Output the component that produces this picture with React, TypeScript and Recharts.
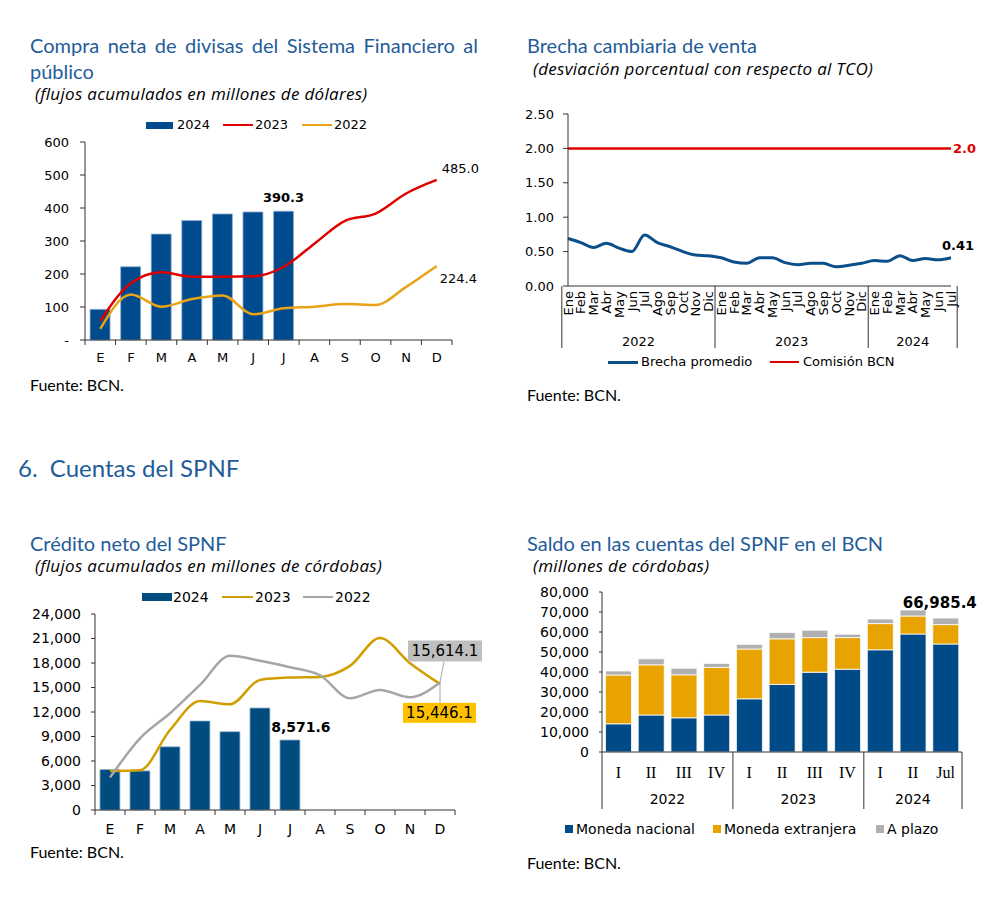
import React from "react";
import { ComposedChart, Bar, Line, XAxis, YAxis, LabelList } from "recharts";

const AX = "'DejaVu Sans', Verdana, sans-serif";
const SERIF = "'Liberation Serif', 'Times New Roman', serif";
const TF = "Lato, 'Open Sans', sans-serif";
const SF = "'Open Sans', Lato, sans-serif";
const TITLE = "#1F5C99";
const AXC = "#333";

// ---------- Chart 1: Compra neta de divisas ----------
const monthKeys = ["Ene", "Feb", "Mar", "Abr", "May", "Jun", "Jul", "Ago", "Sep", "Oct", "Nov", "Dic"];
const monthLetters = ["E", "F", "M", "A", "M", "J", "J", "A", "S", "O", "N", "D"];
const compra2024 = [93, 222, 321, 362, 382, 388, 390.3];
const compra2023 = [58, 172, 205, 192, 192, 193, 222, 292, 361, 383, 444, 485.0];
const compra2022 = [34, 138, 101, 124, 135, 78, 96, 101, 109, 106, 161, 224.4];
const compraTicks = [0, 100, 200, 300, 400, 500, 600];

// ---------- Chart 2: Brecha cambiaria ----------
const brechaYears = ["2022", "2023", "2024"];
const brechaMonthCounts = [12, 12, 7];
const brechaPromedio = [
  0.69, 0.63, 0.56, 0.62, 0.55, 0.5, 0.74, 0.63, 0.57, 0.5, 0.45, 0.44,
  0.41, 0.35, 0.33, 0.41, 0.41, 0.34, 0.31, 0.33, 0.33, 0.28, 0.3, 0.33,
  0.37, 0.36, 0.44, 0.37, 0.4, 0.38, 0.41,
];
const comisionBCN = [
  2.0, 2.0, 2.0, 2.0, 2.0, 2.0, 2.0, 2.0, 2.0, 2.0, 2.0, 2.0,
  2.0, 2.0, 2.0, 2.0, 2.0, 2.0, 2.0, 2.0, 2.0, 2.0, 2.0, 2.0,
  2.0, 2.0, 2.0, 2.0, 2.0, 2.0, 2.0,
];
const brechaTicks = [0, 0.5, 1, 1.5, 2, 2.5];

// ---------- Chart 3: Crédito neto del SPNF ----------
const credito2024 = [4960, 4790, 7740, 10900, 9590, 12490, 8571.6];
const credito2023 = [4790, 4870, 9790, 13350, 12940, 15930, 16220, 16300, 17650, 21050, 17980, 15446.1];
const credito2022 = [3970, 8770, 11840, 15320, 18880, 18270, 17490, 16500, 13680, 14700, 13800, 15614.1];
const creditoTicks = [0, 3000, 6000, 9000, 12000, 15000, 18000, 21000, 24000];

// ---------- Chart 4: Saldo en las cuentas ----------
const saldoYears = ["2022", "2023", "2024"];
const saldoCounts = [4, 4, 3];
const saldoPeriods = ["I", "II", "III", "IV", "I", "II", "III", "IV", "I", "II", "Jul"];
const monedaNacional = [14100, 18500, 17100, 18500, 26600, 33800, 39900, 41400, 51100, 59000, 54000];
const monedaExtranjera = [24400, 25100, 21500, 23800, 24900, 22800, 17300, 15800, 13100, 9000, 9700];
const aPlazo = [2000, 3000, 3300, 2000, 2300, 3100, 3700, 1700, 2300, 3000, 3285.4];
const saldoTicks = [0, 10000, 20000, 30000, 40000, 50000, 60000, 70000, 80000];

// ---------- data tables ----------
const compraData = monthKeys.map((k, i) => ({
  key: k,
  y2024: i < compra2024.length ? compra2024[i] : null,
  y2023: compra2023[i],
  y2022: compra2022[i],
}));

const creditoData = monthKeys.map((k, i) => ({
  key: k,
  y2024: i < credito2024.length ? credito2024[i] : null,
  y2023: credito2023[i],
  y2022: credito2022[i],
}));

type GroupInfo = { label: string; group: number; pos: number; n: number };
function groupInfo(labels: (i: number, pos: number) => string, counts: number[]): GroupInfo[] {
  const out: GroupInfo[] = [];
  counts.forEach((n, g) => {
    for (let p = 0; p < n; p++) out.push({ label: labels(out.length, p), group: g, pos: p, n });
  });
  return out;
}
const brechaInfo = groupInfo((_i, p) => monthKeys[p], brechaMonthCounts);
const brechaData = brechaInfo.map((it, i) => ({
  key: `${it.label}-${brechaYears[it.group]}`,
  promedio: brechaPromedio[i],
  comision: comisionBCN[i],
}));
const saldoInfo = groupInfo((i) => saldoPeriods[i], saldoCounts);
const saldoData = saldoInfo.map((it, i) => ({
  key: `${saldoYears[it.group]}-${it.label}`,
  mn: monedaNacional[i],
  me: monedaExtranjera[i],
  ap: aPlazo[i],
}));

const fmt0 = (v: number) => v.toLocaleString("en-US", { maximumFractionDigits: 0 });
const fmt1 = (v: number) => v.toLocaleString("en-US", { minimumFractionDigits: 1, maximumFractionDigits: 1 });

// ---------- layouts ----------
const C1 = { w: 490, h: 280, m: { top: 42, right: 38, bottom: 10, left: 25 }, yw: 60, xh: 30 };
const C1half = (C1.w - C1.m.left - C1.yw - C1.m.right) / monthKeys.length / 2;
const C2 = { w: 470, h: 280, m: { top: 14, right: 39, bottom: 30, left: 3 }, yw: 45, xh: 64 };
const C2half = (C2.w - C2.m.left - C2.yw - C2.m.right) / brechaData.length / 2;
const C3 = { w: 490, h: 280, m: { top: 34, right: 35, bottom: 20, left: 5 }, yw: 90, xh: 30 };
const C3half = (C3.w - C3.m.left - C3.yw - C3.m.right) / monthKeys.length / 2;
const C4 = { w: 470, h: 290, m: { top: 12, right: 28, bottom: 58, left: 2 }, yw: 80, xh: 60 };
const C4half = (C4.w - C4.m.left - C4.yw - C4.m.right) / saldoData.length / 2;

// ---------- ticks ----------
function LetterTick(props: any) {
  const { x, y, index, half, count, gap, fontSize } = props;
  return (
    <g>
      <line x1={x - half} x2={x - half} y1={y} y2={y + 5} stroke={AXC} />
      {index === count - 1 && <line x1={x + half} x2={x + half} y1={y} y2={y + 5} stroke={AXC} />}
      <text x={x} y={y + gap} dy="0.35em" textAnchor="middle" fontSize={fontSize} fontFamily={AX} fill="#000">
        {monthLetters[index]}
      </text>
    </g>
  );
}

function BrechaTick(props: any) {
  const { x, y, index } = props;
  const it = brechaInfo[index];
  if (!it) return null;
  const half = C2half;
  const mid = Math.floor(it.n / 2);
  const cx = it.n % 2 === 0 ? x - half : x;
  const ty = y + 5;
  return (
    <g>
      {it.pos === 0 && <line x1={x - half} x2={x - half} y1={y} y2={y + 62} stroke={AXC} />}
      {index === brechaInfo.length - 1 && <line x1={x + half} x2={x + half} y1={y} y2={y + 62} stroke={AXC} />}
      <text
        x={x}
        y={ty}
        transform={`rotate(-90, ${x}, ${ty})`}
        textAnchor="end"
        dy="0.36em"
        fontSize={13}
        fontFamily={AX}
        fill="#000"
      >
        {it.label}
      </text>
      {it.pos === mid && (
        <text x={cx} y={y + 55} dy="0.35em" textAnchor="middle" fontSize={13} fontFamily={AX} fill="#000">
          {brechaYears[it.group]}
        </text>
      )}
    </g>
  );
}

function SaldoTick(props: any) {
  const { x, y, index } = props;
  const it = saldoInfo[index];
  if (!it) return null;
  const half = C4half;
  const mid = Math.floor(it.n / 2);
  const cx = it.n % 2 === 0 ? x - half : x;
  return (
    <g>
      {it.pos === 0 && <line x1={x - half} x2={x - half} y1={y} y2={y + 57} stroke={AXC} />}
      {index === saldoInfo.length - 1 && <line x1={x + half} x2={x + half} y1={y} y2={y + 57} stroke={AXC} />}
      <text x={x} y={y + 20} dy="0.35em" textAnchor="middle" fontSize={16} fontFamily={SERIF} fill="#000">
        {it.label}
      </text>
      {it.pos === mid && (
        <text x={cx} y={y + 47} dy="0.35em" textAnchor="middle" fontSize={14} fontFamily={AX} fill="#000">
          {saldoYears[it.group]}
        </text>
      )}
    </g>
  );
}

// ---------- HTML text helpers ----------
function Txt(props: {
  x: number; y: number; size: number; children: React.ReactNode; color?: string; family?: string;
  italic?: boolean; weight?: number; style?: React.CSSProperties;
}) {
  const { x, y, size, children, color = "#000", family = TF, italic = false, weight = 400, style = {} } = props;
  return (
    <div
      style={{
        position: "absolute", left: x, top: y - size * 0.6, fontSize: size, lineHeight: `${size * 1.2}px`,
        color, fontFamily: family, fontStyle: italic ? "italic" : "normal", fontWeight: weight,
        whiteSpace: "nowrap", ...style,
      }}
    >
      {children}
    </div>
  );
}
function LRect({ x, y, w, h, color }: { x: number; y: number; w: number; h: number; color: string }) {
  return <div style={{ position: "absolute", left: x, top: y - h / 2, width: w, height: h, background: color }} />;
}
function LLine({ x, y, w, t, color }: { x: number; y: number; w: number; t: number; color: string }) {
  return <div style={{ position: "absolute", left: x, top: y - t / 2, width: w, height: t, background: color }} />;
}

const yTick = (size: number) => ({ fontSize: size, fill: "#000", fontFamily: AX });
const SUB: React.CSSProperties = { letterSpacing: "0.3px" };

export default function App() {
  return (
    <div style={{ position: "absolute", left: 0, top: 0, width: 988, height: 923, background: "#fff", overflow: "hidden" }}>
      {/* ===== Chart 1 titles ===== */}
      <Txt x={30} y={45} size={20} color={TITLE} style={{ width: 448, textAlign: "justify", textAlignLast: "justify" }}>
        Compra neta de divisas del Sistema Financiero al
      </Txt>
      <Txt x={30} y={71} size={20} color={TITLE}>público</Txt>
      <Txt x={35} y={94} size={17} family={SF} italic style={SUB}>(flujos acumulados en millones de dólares)</Txt>
      <LRect x={146} y={125} w={27} h={7} color="#004B8D" />
      <Txt x={177} y={125} size={13} family={AX}>2024</Txt>
      <LLine x={223} y={125} w={30} t={2.5} color="#E00000" />
      <Txt x={255} y={125} size={13} family={AX}>2023</Txt>
      <LLine x={302} y={125} w={30} t={2.5} color="#E8A317" />
      <Txt x={334} y={125} size={13} family={AX}>2022</Txt>
      <Txt x={30} y={385} size={16}>Fuente: BCN.</Txt>

      <div style={{ position: "absolute", left: 0, top: 100 }}>
        <ComposedChart width={C1.w} height={C1.h} data={compraData} margin={C1.m} barCategoryGap="16.5%">
          <XAxis
            dataKey="key"
            height={C1.xh}
            interval={0}
            tickLine={false}
            tickSize={0}
            tickMargin={0}
            axisLine={{ stroke: AXC }}
            tick={(p: any) => <LetterTick {...p} half={C1half} count={12} gap={17} fontSize={13} />}
          />
          <YAxis
            width={C1.yw}
            domain={[0, 600]}
            ticks={compraTicks}
            interval={0}
            tickSize={5}
            tickMargin={11}
            tickLine={{ stroke: AXC }}
            axisLine={{ stroke: AXC }}
            tick={yTick(13)}
            tickFormatter={(v: number) => (v === 0 ? "-" : String(v))}
          />
          <Bar dataKey="y2024" fill="#004B8D" stroke="#8FB3D6" strokeWidth={0.8} isAnimationActive={false}>
            <LabelList
              dataKey="y2024"
              content={(p: any) =>
                p.index === compra2024.length - 1 ? (
                  <text x={p.x + p.width / 2} y={p.y - 14} dy="0.35em" textAnchor="middle" fontSize={13} fontWeight="bold" fontFamily={AX} fill="#000">
                    {fmt1(Number(p.value))}
                  </text>
                ) : null
              }
            />
          </Bar>
          <Line type="monotone" dataKey="y2023" stroke="#E00000" strokeWidth={2.5} dot={false} isAnimationActive={false}>
            <LabelList
              dataKey="y2023"
              content={(p: any) =>
                p.index === 11 ? (
                  <text x={p.x + 5} y={p.y - 12} dy="0.35em" textAnchor="start" fontSize={13} fontFamily={AX} fill="#000">
                    {fmt1(Number(p.value))}
                  </text>
                ) : null
              }
            />
          </Line>
          <Line type="monotone" dataKey="y2022" stroke="#E8A317" strokeWidth={2.5} dot={false} isAnimationActive={false}>
            <LabelList
              dataKey="y2022"
              content={(p: any) =>
                p.index === 11 ? (
                  <text x={p.x + 3} y={p.y + 13} dy="0.35em" textAnchor="start" fontSize={13} fontFamily={AX} fill="#000">
                    {fmt1(Number(p.value))}
                  </text>
                ) : null
              }
            />
          </Line>
        </ComposedChart>
      </div>

      {/* ===== Chart 2 ===== */}
      <Txt x={527} y={45} size={20} color={TITLE}>Brecha cambiaria de venta</Txt>
      <Txt x={533} y={69} size={17} family={SF} italic style={SUB}>(desviación porcentual con respecto al TCO)</Txt>
      <LLine x={608} y={362} w={30} t={3} color="#0B4F8A" />
      <Txt x={641} y={362} size={13} family={AX}>Brecha promedio</Txt>
      <LLine x={770} y={362} w={29} t={2.5} color="#E00000" />
      <Txt x={803} y={362} size={13} family={AX}>Comisión BCN</Txt>
      <Txt x={527} y={395} size={16}>Fuente: BCN.</Txt>

      <div style={{ position: "absolute", left: 520, top: 100 }}>
        <ComposedChart width={C2.w} height={C2.h} data={brechaData} margin={C2.m}>
          <XAxis
            dataKey="key"
            height={C2.xh}
            interval={0}
            tickLine={false}
            tickSize={0}
            tickMargin={0}
            axisLine={{ stroke: AXC }}
            tick={(p: any) => <BrechaTick {...p} />}
          />
          <YAxis
            width={C2.yw}
            domain={[0, 2.5]}
            ticks={brechaTicks}
            interval={0}
            tickSize={5}
            tickMargin={9}
            tickLine={{ stroke: AXC }}
            axisLine={{ stroke: AXC }}
            tick={yTick(13)}
            tickFormatter={(v: number) => v.toFixed(2)}
          />
          <Line type="monotone" dataKey="comision" stroke="#E00000" strokeWidth={2.5} dot={false} isAnimationActive={false}>
            <LabelList
              dataKey="comision"
              content={(p: any) =>
                p.index === brechaData.length - 1 ? (
                  <text x={p.x + 2} y={p.y} dy="0.36em" textAnchor="start" fontSize={13} fontWeight="bold" fontFamily={AX} fill="#E00000">
                    {Number(p.value).toFixed(1)}
                  </text>
                ) : null
              }
            />
          </Line>
          <Line type="monotone" dataKey="promedio" stroke="#0B4F8A" strokeWidth={3} dot={false} isAnimationActive={false}>
            <LabelList
              dataKey="promedio"
              content={(p: any) =>
                p.index === brechaData.length - 1 ? (
                  <text x={p.x + 7} y={p.y - 12} dy="0.35em" textAnchor="middle" fontSize={13} fontWeight="bold" fontFamily={AX} fill="#000">
                    {Number(p.value).toFixed(2)}
                  </text>
                ) : null
              }
            />
          </Line>
        </ComposedChart>
      </div>

      {/* ===== Section heading ===== */}
      <Txt x={18} y={468} size={24} color={TITLE}>6.&nbsp;&nbsp;Cuentas del SPNF</Txt>

      {/* ===== Chart 3 ===== */}
      <Txt x={30} y={543} size={20} color={TITLE}>Crédito neto del SPNF</Txt>
      <Txt x={35} y={566} size={17} family={SF} italic style={SUB}>(flujos acumulados en millones de córdobas)</Txt>
      <LRect x={142} y={597} w={30} h={8} color="#004C7F" />
      <Txt x={173} y={597} size={14} family={AX}>2024</Txt>
      <LLine x={222} y={597} w={31} t={2.5} color="#D19E00" />
      <Txt x={255} y={597} size={14} family={AX}>2023</Txt>
      <LLine x={303} y={597} w={30} t={2.5} color="#A6A6A6" />
      <Txt x={335} y={597} size={14} family={AX}>2022</Txt>
      <Txt x={30} y={852} size={16}>Fuente: BCN.</Txt>

      <div style={{ position: "absolute", left: 0, top: 580 }}>
        <ComposedChart width={C3.w} height={C3.h} data={creditoData} margin={C3.m} barCategoryGap="16.5%">
          <XAxis
            dataKey="key"
            height={C3.xh}
            interval={0}
            tickLine={false}
            tickSize={0}
            tickMargin={0}
            axisLine={{ stroke: AXC }}
            tick={(p: any) => <LetterTick {...p} half={C3half} count={12} gap={19} fontSize={14} />}
          />
          <YAxis
            width={C3.yw}
            domain={[0, 24000]}
            ticks={creditoTicks}
            interval={0}
            tickSize={4}
            tickMargin={10}
            tickLine={{ stroke: AXC }}
            axisLine={{ stroke: AXC }}
            tick={yTick(14)}
            tickFormatter={(v: number) => fmt0(v)}
          />
          <Bar dataKey="y2024" fill="#004C7F" stroke="#9DB7CF" strokeWidth={0.8} isAnimationActive={false}>
            <LabelList
              dataKey="y2024"
              content={(p: any) =>
                p.index === credito2024.length - 1 ? (
                  <text x={p.x + p.width / 2 + 11} y={p.y - 13} dy="0.35em" textAnchor="middle" fontSize={14} fontWeight="bold" fontFamily={AX} fill="#000">
                    {fmt1(Number(p.value))}
                  </text>
                ) : null
              }
            />
          </Bar>
          <Line type="monotone" dataKey="y2023" stroke="#D19E00" strokeWidth={2.5} dot={false} isAnimationActive={false}>
            <LabelList
              dataKey="y2023"
              content={(p: any) =>
                p.index === 11 ? (
                  <g>
                    <line x1={p.x} y1={p.y} x2={p.x} y2={p.y + 19} stroke="#A6A6A6" />
                    <rect x={p.x - 37} y={p.y + 19} width={73} height={20} fill="#FFC000" />
                    <text x={p.x - 0.5} y={p.y + 29} dy="0.36em" textAnchor="middle" fontSize={15} fontFamily={AX} fill="#000">
                      {fmt1(Number(p.value))}
                    </text>
                  </g>
                ) : null
              }
            />
          </Line>
          <Line type="monotone" dataKey="y2022" stroke="#A6A6A6" strokeWidth={2.5} dot={false} isAnimationActive={false}>
            <LabelList
              dataKey="y2022"
              content={(p: any) =>
                p.index === 11 ? (
                  <g>
                    <line x1={p.x} y1={p.y} x2={p.x + 4} y2={p.y - 21} stroke="#A6A6A6" />
                    <rect x={p.x - 32} y={p.y - 42} width={74} height={21} fill="#BFBFBF" />
                    <text x={p.x + 5} y={p.y - 31.5} dy="0.36em" textAnchor="middle" fontSize={15} fontFamily={AX} fill="#000">
                      {fmt1(Number(p.value))}
                    </text>
                  </g>
                ) : null
              }
            />
          </Line>
        </ComposedChart>
      </div>

      {/* ===== Chart 4 ===== */}
      <Txt x={527} y={543} size={20} color={TITLE}>Saldo en las cuentas del SPNF en el BCN</Txt>
      <Txt x={533} y={566} size={17} family={SF} italic style={SUB}>(millones de córdobas)</Txt>
      <LRect x={565} y={829} w={8} h={8} color="#004A87" />
      <Txt x={576} y={829} size={14} family={AX}>Moneda nacional</Txt>
      <LRect x={713} y={829} w={8} h={8} color="#E8A300" />
      <Txt x={724} y={829} size={14} family={AX}>Moneda extranjera</Txt>
      <LRect x={876} y={829} w={8} h={8} color="#B0B0B0" />
      <Txt x={887} y={829} size={14} family={AX}>A plazo</Txt>
      <Txt x={527} y={863} size={16}>Fuente: BCN.</Txt>

      <div style={{ position: "absolute", left: 520, top: 580 }}>
        <ComposedChart width={C4.w} height={C4.h} data={saldoData} margin={C4.m} barCategoryGap="10.7%">
          <XAxis
            dataKey="key"
            height={C4.xh}
            interval={0}
            tickLine={false}
            tickSize={0}
            tickMargin={0}
            axisLine={{ stroke: AXC }}
            tick={(p: any) => <SaldoTick {...p} />}
          />
          <YAxis
            width={C4.yw}
            domain={[0, 80000]}
            ticks={saldoTicks}
            interval={0}
            tickSize={3}
            tickMargin={10}
            tickLine={{ stroke: AXC }}
            axisLine={{ stroke: AXC }}
            tick={yTick(14)}
            tickFormatter={(v: number) => fmt0(v)}
          />
          <Bar dataKey="mn" stackId="s" fill="#004A87" stroke="#fff" strokeWidth={0.8} isAnimationActive={false} />
          <Bar dataKey="me" stackId="s" fill="#E8A300" stroke="#fff" strokeWidth={0.8} isAnimationActive={false} />
          <Bar dataKey="ap" stackId="s" fill="#B0B0B0" stroke="#fff" strokeWidth={0.8} isAnimationActive={false}>
            <LabelList
              dataKey="ap"
              content={(p: any) =>
                p.index === saldoData.length - 1 ? (
                  <text x={p.x + p.width / 2 - 6} y={p.y - 15} dy="0.35em" textAnchor="middle" fontSize={15} fontWeight="bold" fontFamily={AX} fill="#000">
                    {fmt1(monedaNacional[p.index] + monedaExtranjera[p.index] + aPlazo[p.index])}
                  </text>
                ) : null
              }
            />
          </Bar>
        </ComposedChart>
      </div>
    </div>
  );
}
